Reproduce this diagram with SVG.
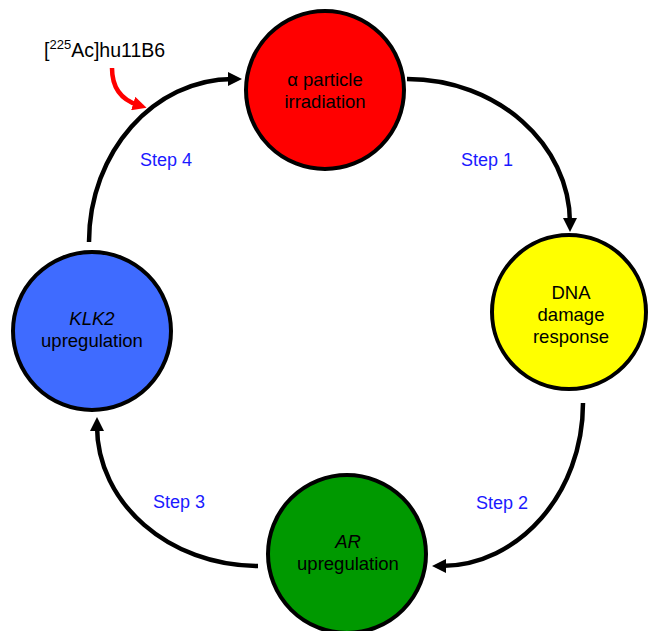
<svg xmlns="http://www.w3.org/2000/svg" width="649" height="631" viewBox="0 0 649 631">
<style>
text{font-family:"Liberation Sans",Arial,sans-serif;font-size:18.5px;fill:#000;text-anchor:middle}
.node{stroke:#000;stroke-width:4}
.conn{fill:none;stroke:#000;stroke-width:4.5}
.step{fill:#1a1aff;font-size:18px}
</style>
<defs>
<marker id="ah" markerUnits="userSpaceOnUse" viewBox="0 0 14 14" refX="5" refY="7" markerWidth="14" markerHeight="14" orient="auto">
<path d="M0,0 L14,7 L0,14 Z" fill="#000"/>
</marker>
<marker id="ahr" markerUnits="userSpaceOnUse" viewBox="0 0 14 14" refX="5" refY="7" markerWidth="14" markerHeight="14" orient="auto">
<path d="M0,0 L14,7 L0,14 Z" fill="#ff0000"/>
</marker>
</defs>
<rect width="649" height="631" fill="#fff"/>
<g id="connectors">
<path class="conn" d="M407,79 C497,79 570,144 570,223" marker-end="url(#ah)"/>
<path class="conn" d="M583,403 C583,493 519,566 441,566" marker-end="url(#ah)"/>
<path class="conn" d="M258,566 C169,566 97,503 97,426" marker-end="url(#ah)"/>
<path class="conn" d="M89,242 C89,152 154,79 233,79" marker-end="url(#ah)"/>
<path d="M112,68 C112,88 122,100 138,105" fill="none" stroke="#ff0000" stroke-width="4.5" marker-end="url(#ahr)"/>
<text class="step" x="487" y="166">Step 1</text>
<text class="step" x="502" y="509">Step 2</text>
<text class="step" x="179" y="508">Step 3</text>
<text class="step" x="166" y="166">Step 4</text>
</g>
<g id="drug">
<text x="44" y="57" style="text-anchor:start;font-size:19.5px">[<tspan dy="-8" font-size="13">225</tspan><tspan dy="8">Ac]hu11B6</tspan></text>
</g>
<g id="alpha">
<circle class="node" cx="325" cy="90" r="79" fill="#ff0000"/>
<text x="325" y="86">α particle</text>
<text x="325" y="108">irradiation</text>
</g>
<g id="dna">
<circle class="node" cx="569" cy="312" r="77" fill="#ffff00"/>
<text x="571" y="299">DNA</text>
<text x="571" y="321">damage</text>
<text x="571" y="343">response</text>
</g>
<g id="ar">
<circle class="node" cx="347" cy="554" r="79" fill="#009900"/>
<text x="348" y="548" font-style="italic">AR</text>
<text x="348" y="570">upregulation</text>
</g>
<g id="klk2">
<circle class="node" cx="92" cy="331" r="79" fill="#3f6bff"/>
<text x="92" y="325" font-style="italic">KLK2</text>
<text x="92" y="347">upregulation</text>
</g>
</svg>
